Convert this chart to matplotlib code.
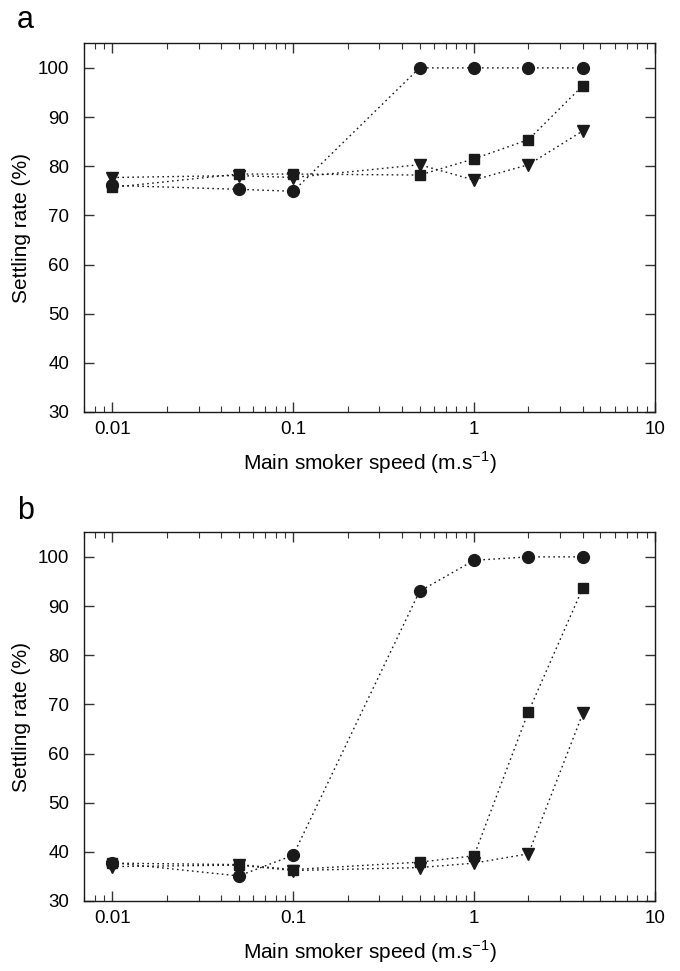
import numpy as np
import matplotlib
matplotlib.use("Agg")
import matplotlib.pyplot as plt
from matplotlib.ticker import LogLocator, FixedLocator, FixedFormatter, NullFormatter

plt.rcParams['font.family'] = ['Liberation Sans', 'DejaVu Sans']

speed = [0.01, 0.05, 0.1, 0.5, 1, 2, 4]

# panel a
a_circle = [76.1, 75.3, 74.9, 100, 100, 100, 100]
a_square = [75.7, 78.4, 78.4, 78.2, 81.5, 85.4, 96.4]
a_triangle = [77.7, 78.1, 77.7, 80.3, 77.2, 80.3, 87.2]

# panel b
b_circle = [37.8, 35.1, 39.3, 93.0, 99.3, 100, 100]
b_square = [37.7, 37.4, 36.4, 37.9, 39.2, 68.5, 93.7]
b_triangle = [37.0, 37.3, 36.2, 36.8, 37.7, 39.6, 68.2]

x_ticks = [0.01, 0.1, 1, 10]
x_tick_labels = ["0.01", "0.1", "1", "10"]
y_ticks = [30, 40, 50, 60, 70, 80, 90, 100]

fig = plt.figure(figsize=(6.8, 9.71), dpi=100)
ax_a = fig.add_axes([0.124, 0.5757, 0.839, 0.3797])
ax_b = fig.add_axes([0.124, 0.0721, 0.839, 0.3797])


def draw_panel(ax, circ, sq, tri):
    line_kw = dict(color="#1a1a1a", linestyle=(0, (1.2, 2.4)), linewidth=1.0)
    ax.plot(speed, tri, marker="v", markersize=8.5, **line_kw)
    ax.plot(speed, sq, marker="s", markersize=7.5, **line_kw)
    ax.plot(speed, circ, marker="o", markersize=8.5, **line_kw)
    ax.set_xscale("log")
    ax.set_xlim(0.007, 10)
    ax.set_ylim(30, 105)
    ax.xaxis.set_major_locator(FixedLocator(x_ticks))
    ax.xaxis.set_major_formatter(FixedFormatter(x_tick_labels))
    ax.xaxis.set_minor_locator(LogLocator(base=10, subs=np.arange(2, 10), numticks=20))
    ax.xaxis.set_minor_formatter(NullFormatter())
    ax.set_yticks(y_ticks)
    ax.tick_params(which="both", direction="in", top=True, right=True,
                   labelsize=13.5, color="#333333")
    ax.tick_params(axis="x", pad=6.5)
    ax.tick_params(axis="y", pad=11)
    ax.tick_params(which="major", length=7, width=1)
    ax.tick_params(which="minor", length=4, width=0.8)
    for s in ax.spines.values():
        s.set_linewidth(1.0)
        s.set_color("#1a1a1a")
    ax.set_xlabel("Main smoker speed (m.s$^{\\mathregular{-1}}$)", fontsize=15, labelpad=8)
    ax.set_ylabel("Settling rate (%)", fontsize=15, labelpad=5)


draw_panel(ax_a, a_circle, a_square, a_triangle)
draw_panel(ax_b, b_circle, b_square, b_triangle)

fig.text(0.025, 1 - 28 / 971, "a", fontsize=22, ha="left", va="baseline")
fig.text(0.025, 1 - 519 / 971, "b", fontsize=22, ha="left", va="baseline")

plt.savefig("out.png", dpi=100)
